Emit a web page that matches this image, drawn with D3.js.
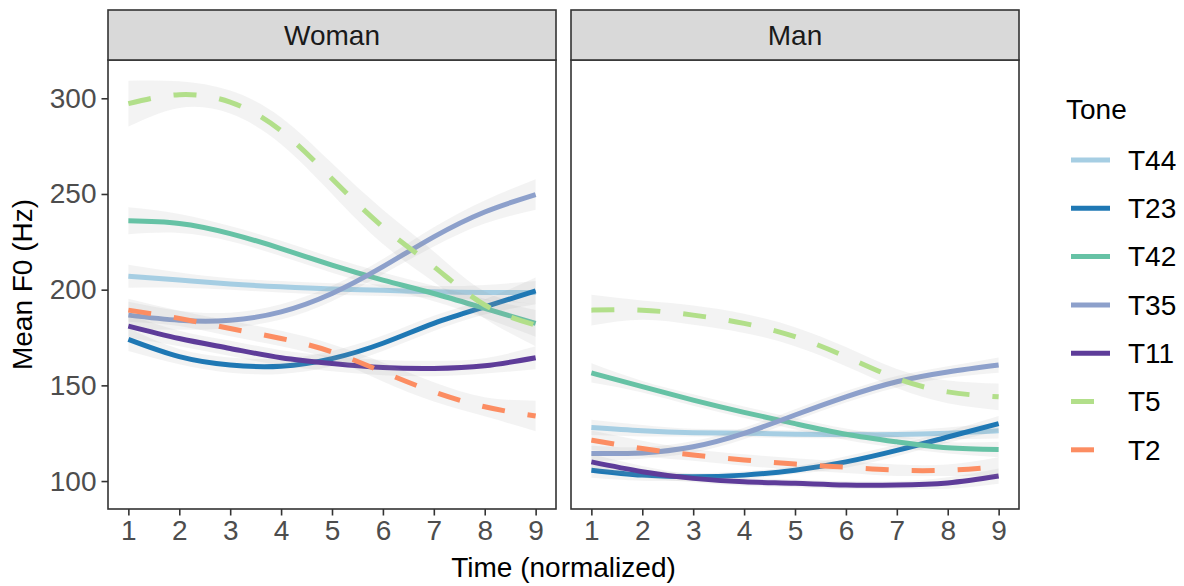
<!DOCTYPE html>
<html>
<head>
<meta charset="utf-8">
<script src="https://cdn.jsdelivr.net/npm/d3@7"></script>
<style>
body { margin: 0; background: #fff; }
svg text { font-family: "Liberation Sans", Arial, sans-serif; }
</style>
</head>
<body>
<div id="chart"></div>
<script>
var times = [1, 2, 3, 4, 5, 6, 7, 8, 9];
var tones = ["T44", "T23", "T42", "T35", "T11", "T5", "T2"];
var speakers = ["Woman", "Man"];
var yTicks = [100, 150, 200, 250, 300];

// smoothed mean F0 per tone (rows follow tones)
var womanF0 = [
	[207, 205, 203, 201.5, 200.4, 199.7, 198.9, 198.5, 198.5],
	[174, 165, 160.6, 160, 164, 172, 182.4, 191, 199.4],
	[236, 234.6, 229.3, 221.5, 212.8, 205, 198, 190.2, 182.4],
	[186.7, 184, 184, 188.4, 198, 212, 227.6, 240.6, 249.7],
	[181, 174.5, 169.3, 164.4, 161.4, 159.3, 158.8, 160.2, 164.4],
	[297.2, 301.9, 298, 283, 258, 232.8, 212, 192, 181.5],
	[189.3, 185, 179.7, 174.5, 167.5, 157, 146.6, 138.8, 134]
];
var manF0 = [
	[128, 126.3, 125.3, 125, 124.5, 124.3, 124.3, 125, 126.3],
	[105.7, 103.1, 102.2, 103.1, 105.7, 110, 116, 123, 130],
	[156.5, 149.3, 142.3, 135.9, 130, 124.5, 120.5, 117.4, 116.5],
	[114.4, 114.7, 117.9, 124.9, 134.5, 144, 151.9, 157, 160.6],
	[110, 104.9, 101.4, 99.6, 98.8, 97.9, 97.9, 99, 102.6],
	[189.3, 189.3, 186.7, 182.4, 175.4, 165, 153.6, 146.6, 144],
	[121.4, 117, 113.6, 111, 108.9, 107.2, 105.7, 105.7, 107.5]
];
// half width of the confidence band (Hz)
var womanCI = [
	[6, 4, 3, 3, 3, 3, 3, 4, 6],
	[6, 4, 4, 4, 4, 4, 4, 4, 7],
	[7, 5, 4, 4, 4, 4, 4, 5, 7],
	[7, 5, 4, 4, 4, 4, 5, 6, 8],
	[6, 4, 4, 4, 4, 4, 4, 4, 6],
	[12, 7, 6, 7, 8, 9, 8, 7, 11],
	[6, 4, 4, 4, 4, 5, 5, 5, 8]
];
var manCI = [
	[4, 3, 2, 2, 2, 2, 2, 3, 4],
	[4, 3, 2, 2, 2, 3, 3, 3, 4],
	[5, 3, 3, 3, 3, 3, 3, 3, 4],
	[4, 3, 3, 3, 3, 3, 3, 3, 4],
	[4, 3, 2, 2, 2, 2, 2, 3, 4],
	[8, 5, 5, 5, 5, 5, 5, 6, 7],
	[5, 4, 3, 3, 3, 3, 3, 3, 5]
];

var colors = ["#a6cee3", "#1f78b4", "#66c2a5", "#8da0cb", "#5e3c99", "#b2df8a", "#fc8d62"];
var dashed = [false, false, false, false, false, true, true];

var width = 1184, height = 586;
var panelTop = 60, panelBottom = 509, stripTop = 10;
var panelLefts = [108, 571], panelWidth = 448;
var dash = "23,23";
var fontSize = 28;
var textGray = "#4d4d4d", borderCol = "#333333";

var svg = d3.select("#chart").append("svg")
	.attr("width", width)
	.attr("height", height);

var y = d3.scaleLinear().domain([85.4, 320]).range([panelBottom, panelTop]);

function drawPanel(index) {
	var left = panelLefts[index];
	var f0 = index === 0 ? womanF0 : manF0;
	var ci = index === 0 ? womanCI : manCI;
	var x = d3.scaleLinear().domain([0.6, 9.4]).range([left, left + panelWidth]);

	var g = svg.append("g");

	g.append("rect")
		.attr("x", left).attr("y", panelTop)
		.attr("width", panelWidth).attr("height", panelBottom - panelTop)
		.attr("fill", "#fff");

	var line = d3.line()
		.x(function(d, i) { return x(times[i]); })
		.y(function(d) { return y(d); })
		.curve(d3.curveNatural);

	tones.forEach(function(tone, t) {
		var band = d3.area()
			.x(function(d, i) { return x(times[i]); })
			.y0(function(d, i) { return y(d - ci[t][i]); })
			.y1(function(d, i) { return y(d + ci[t][i]); })
			.curve(d3.curveNatural);

		g.append("path")
			.attr("d", band(f0[t]))
			.attr("fill", "#999999")
			.attr("fill-opacity", 0.12);

		g.append("path")
			.attr("d", line(f0[t]))
			.attr("fill", "none")
			.attr("stroke", colors[t])
			.attr("stroke-width", 5)
			.attr("stroke-dasharray", dashed[t] ? dash : null);
	});

	g.append("rect")
		.attr("x", left).attr("y", panelTop)
		.attr("width", panelWidth).attr("height", panelBottom - panelTop)
		.attr("fill", "none")
		.attr("stroke", borderCol)
		.attr("stroke-width", 1.6);

	// strip
	g.append("rect")
		.attr("x", left).attr("y", stripTop)
		.attr("width", panelWidth).attr("height", panelTop - stripTop)
		.attr("fill", "#d9d9d9")
		.attr("stroke", borderCol)
		.attr("stroke-width", 1.6);
	g.append("text")
		.attr("x", left + panelWidth / 2)
		.attr("y", 45)
		.attr("text-anchor", "middle")
		.attr("font-size", fontSize)
		.attr("fill", "#1a1a1a")
		.text(speakers[index]);

	var xAxis = g.append("g")
		.attr("transform", "translate(0," + panelBottom + ")")
		.call(d3.axisBottom(x).tickValues(times).tickFormat(d3.format("d")).tickSizeOuter(0).tickSize(6.5).tickPadding(5));
	xAxis.select(".domain").remove();
	xAxis.selectAll(".tick line").attr("stroke", borderCol).attr("stroke-width", 1.6);
	xAxis.selectAll(".tick text")
		.attr("font-size", fontSize)
		.attr("fill", textGray)
		.attr("font-family", "Liberation Sans, Arial, sans-serif");

	if (index === 0) {
		var yAxis = g.append("g")
			.attr("transform", "translate(" + left + ",0)")
			.call(d3.axisLeft(y).tickValues(yTicks).tickSizeOuter(0).tickSize(6.5).tickPadding(5));
		yAxis.select(".domain").remove();
		yAxis.selectAll(".tick line").attr("stroke", borderCol).attr("stroke-width", 1.6);
		yAxis.selectAll(".tick text")
			.attr("font-size", fontSize)
			.attr("fill", textGray)
			.attr("font-family", "Liberation Sans, Arial, sans-serif");
	}
}

drawPanel(0);
drawPanel(1);

svg.append("text")
	.attr("x", (panelLefts[0] + panelLefts[1] + panelWidth) / 2)
	.attr("y", 577)
	.attr("text-anchor", "middle")
	.attr("font-size", fontSize)
	.attr("fill", "#000")
	.text("Time (normalized)");

svg.append("text")
	.attr("transform", "translate(32," + (panelTop + panelBottom) / 2 + ") rotate(-90)")
	.attr("text-anchor", "middle")
	.attr("font-size", fontSize)
	.attr("fill", "#000")
	.text("Mean F0 (Hz)");

// legend
var legend = svg.append("g");
legend.append("text")
	.attr("x", 1066)
	.attr("y", 119)
	.attr("font-size", fontSize)
	.attr("fill", "#000")
	.text("Tone");

tones.forEach(function(tone, t) {
	var ly = 160 + t * 48.3;
	legend.append("line")
		.attr("x1", 1071).attr("x2", 1110)
		.attr("y1", ly).attr("y2", ly)
		.attr("stroke", colors[t])
		.attr("stroke-width", 5)
		.attr("stroke-dasharray", dashed[t] ? dash : null);
	legend.append("text")
		.attr("x", 1128)
		.attr("y", ly)
		.attr("dy", "0.35em")
		.attr("font-size", fontSize)
		.attr("fill", "#000")
		.text(tone);
});
</script>
</body>
</html>
